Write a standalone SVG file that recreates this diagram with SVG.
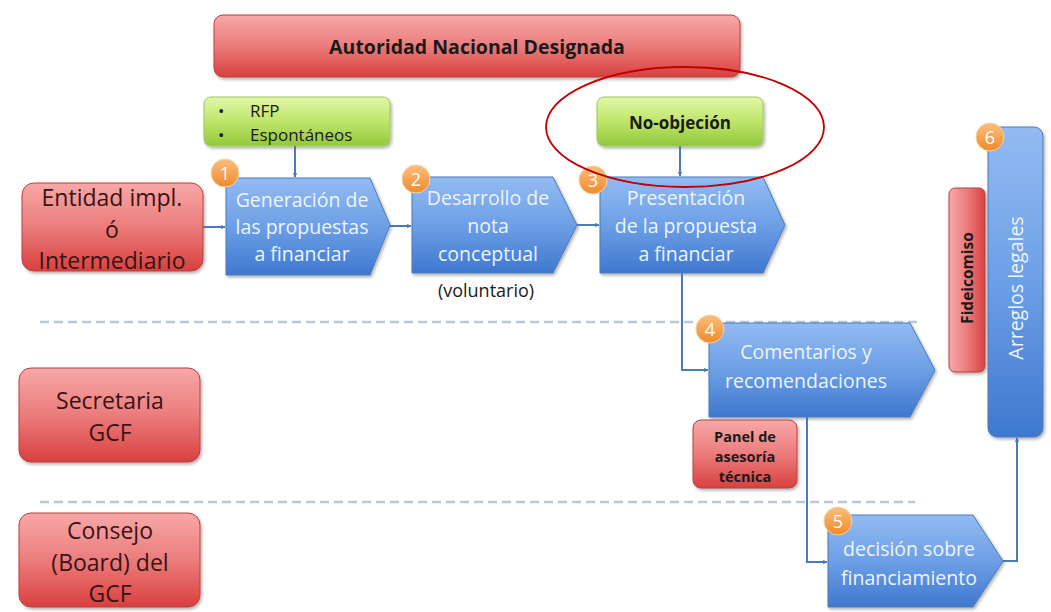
<svg xmlns="http://www.w3.org/2000/svg" width="1051" height="612" viewBox="0 0 1051 612">
<defs>
<linearGradient id="gRed" x1="0" y1="0" x2="0" y2="1"><stop offset="0" stop-color="#f7a8a8"/><stop offset="0.5" stop-color="#ec7c7c"/><stop offset="1" stop-color="#d8403f"/></linearGradient>
<linearGradient id="gBlue" x1="0" y1="0" x2="0" y2="1"><stop offset="0" stop-color="#93bbf2"/><stop offset="0.5" stop-color="#6d9fe6"/><stop offset="1" stop-color="#3f78cf"/></linearGradient>
<linearGradient id="gRedH" x1="0" y1="0" x2="1" y2="0"><stop offset="0" stop-color="#f7a8a8"/><stop offset="0.5" stop-color="#ec7c7c"/><stop offset="1" stop-color="#d8403f"/></linearGradient>
<linearGradient id="gGreen" x1="0" y1="0" x2="0" y2="1"><stop offset="0" stop-color="#e2f7a8"/><stop offset="0.5" stop-color="#bfe56a"/><stop offset="1" stop-color="#92c83a"/></linearGradient>
<linearGradient id="gOrange" x1="0" y1="0" x2="0" y2="1"><stop offset="0" stop-color="#fbbf7c"/><stop offset="1" stop-color="#f08a2c"/></linearGradient>
<filter id="sh" x="-10%" y="-10%" width="125%" height="130%"><feDropShadow dx="1.5" dy="2" stdDeviation="1.5" flood-color="#000" flood-opacity="0.3"/></filter>
<marker id="arr" viewBox="0 0 10 10" refX="9" refY="5" markerWidth="5" markerHeight="5" orient="auto" markerUnits="userSpaceOnUse"><path d="M0,0 L10,5 L0,10 L3,5 Z" fill="#4a7ab8"/></marker>
<style>
.red{fill:url(#gRed);stroke:#b8403e;stroke-width:1;filter:url(#sh)}
.blue{fill:url(#gBlue);stroke:#4a7ab8;stroke-width:1;filter:url(#sh)}
.green{fill:url(#gGreen);stroke:#9cc860;stroke-width:1;filter:url(#sh)}
.badge{fill:url(#gOrange);stroke:#f6d2a8;stroke-width:1}
.bt{font-family:"Open Sans","Noto Sans",sans-serif;font-size:18px;fill:#fff;text-anchor:middle}
.rt{font-family:"Open Sans","Noto Sans",sans-serif;font-size:23px;fill:#3a1414;text-anchor:middle}
.wt{font-family:"Open Sans","Noto Sans",sans-serif;font-size:19.5px;fill:#eef4ff;text-anchor:middle}
.bd{font-family:"Open Sans","Noto Sans",sans-serif;font-weight:bold;fill:#1a1a1a;text-anchor:middle}
.gt{font-family:"Open Sans","Noto Sans",sans-serif;font-size:17px;fill:#1a1a1a}
.con{fill:none;stroke:#4a7ab8;stroke-width:2;marker-end:url(#arr)}
.dash{stroke:#b8c8d8;stroke-width:2.5;stroke-dasharray:9,5}
</style>
</defs>
<rect width="1051" height="612" fill="#fff"/>
<g id="lanes">
<line class="dash" x1="40" y1="322" x2="920" y2="322"/>
<line class="dash" x1="40" y1="502" x2="915" y2="502"/>
</g>
<g id="autoridad"><rect class="red" x="214" y="15" width="526" height="62" rx="9"/><text class="bd" x="477" y="54" font-size="19.5">Autoridad Nacional Designada</text></g>
<g id="rfp"><rect class="green" x="204" y="97" width="186" height="49" rx="7"/><text class="gt" x="218" y="117">•</text><text class="gt" x="250" y="117">RFP</text><text class="gt" x="218" y="141">•</text><text class="gt" x="250" y="141">Espontáneos</text></g>
<g id="noobjecion"><rect class="green" x="597" y="97" width="166" height="49" rx="7"/><text class="bd" x="680" y="129" font-size="17">No-objeción</text></g>
<g id="entidad"><rect class="red" x="22" y="183" width="181" height="88" rx="12"/><text class="rt" x="112" y="206">Entidad impl.</text><text class="rt" x="112" y="237.5">ó</text><text class="rt" x="112" y="269">Intermediario</text></g>
<g id="paso1"><path class="blue" d="M226,178 L370,178 L390,225 L370,275 L226,275 Z"/><text class="wt" x="302" y="207">Generación de</text><text class="wt" x="302" y="234">las propuestas</text><text class="wt" x="302" y="261">a financiar</text><circle class="badge" cx="225" cy="173" r="14"/><text class="bt" x="225" y="180">1</text></g>
<g id="paso2"><path class="blue" d="M412,177 L553,177 L577,225 L553,273 L412,273 Z"/><text class="wt" x="488" y="205">Desarrollo de</text><text class="wt" x="488" y="233">nota</text><text class="wt" x="488" y="261">conceptual</text><circle class="badge" cx="416" cy="179" r="14"/><text class="bt" x="416" y="186">2</text><text x="486" y="297" font-family="'Open Sans','Noto Sans',sans-serif" font-size="18" fill="#1a1a1a" text-anchor="middle">(voluntario)</text></g>
<g id="paso3"><path class="blue" d="M600,177 L763,177 L785,225 L763,273 L600,273 Z"/><text class="wt" x="686" y="205">Presentación</text><text class="wt" x="686" y="233">de la propuesta</text><text class="wt" x="686" y="261">a financiar</text><circle class="badge" cx="593" cy="180" r="14"/><text class="bt" x="593" y="187">3</text></g>
<g id="paso4"><path class="blue" d="M709,323 L910,323 L935,370 L910,417 L709,417 Z"/><text class="wt" x="806" y="359" font-size="20">Comentarios  y</text><text class="wt" x="806" y="388" font-size="20">recomendaciones</text><circle class="badge" cx="710" cy="329" r="14"/><text class="bt" x="710" y="336">4</text></g>
<g id="panel"><rect class="red" x="693" y="420" width="104" height="68" rx="8"/><text class="bd" x="745" y="442" font-size="14.5">Panel de</text><text class="bd" x="745" y="462" font-size="14.5">asesoría</text><text class="bd" x="745" y="482" font-size="14.5">técnica</text></g>
<g id="paso5"><path class="blue" d="M828,515 L973,515 L1003,561 L973,607 L828,607 Z"/><text class="wt" x="909" y="556">decisión sobre</text><text class="wt" x="909" y="585">financiamiento</text><circle class="badge" cx="838" cy="521" r="14"/><text class="bt" x="838" y="528">5</text></g>
<g id="fideicomiso"><rect x="949" y="188" width="36" height="184" rx="6" fill="url(#gRedH)" stroke="#b8403e" filter="url(#sh)"/><text class="bd" font-size="15.5" transform="translate(973,278) rotate(-90)">Fideicomiso</text></g>
<g id="paso6"><rect class="blue" x="988" y="127" width="55" height="310" rx="9"/><text class="wt" font-size="20" transform="translate(1023,288) rotate(-90)">Arreglos legales</text><circle class="badge" cx="990" cy="137" r="14"/><text class="bt" x="990" y="144">6</text></g>
<g id="secretaria"><rect class="red" x="19" y="368" width="181" height="94" rx="12"/><text class="rt" x="110" y="409">Secretaria</text><text class="rt" x="110" y="440.5">GCF</text></g>
<g id="consejo"><rect class="red" x="19" y="513" width="181" height="94" rx="12"/><text class="rt" x="110" y="539">Consejo</text><text class="rt" x="110" y="570.5">(Board) del</text><text class="rt" x="110" y="602">GCF</text></g>
<g id="connectors">
<line class="con" x1="203" y1="227" x2="225" y2="227"/>
<line class="con" x1="390" y1="226" x2="411" y2="226"/>
<line class="con" x1="577" y1="225" x2="599" y2="225"/>
<line class="con" x1="295" y1="146" x2="295" y2="177"/>
<line class="con" x1="680" y1="146" x2="680" y2="176"/>
<polyline class="con" points="682,273 682,370 708,370"/>
<polyline class="con" points="807,417 807,562 827,562"/>
<polyline class="con" points="1003,561 1017,561 1017,438"/>
</g>
<g id="highlight"><ellipse cx="685" cy="127" rx="139" ry="60" fill="none" stroke="#c00000" stroke-width="1.8"/></g>
</svg>
